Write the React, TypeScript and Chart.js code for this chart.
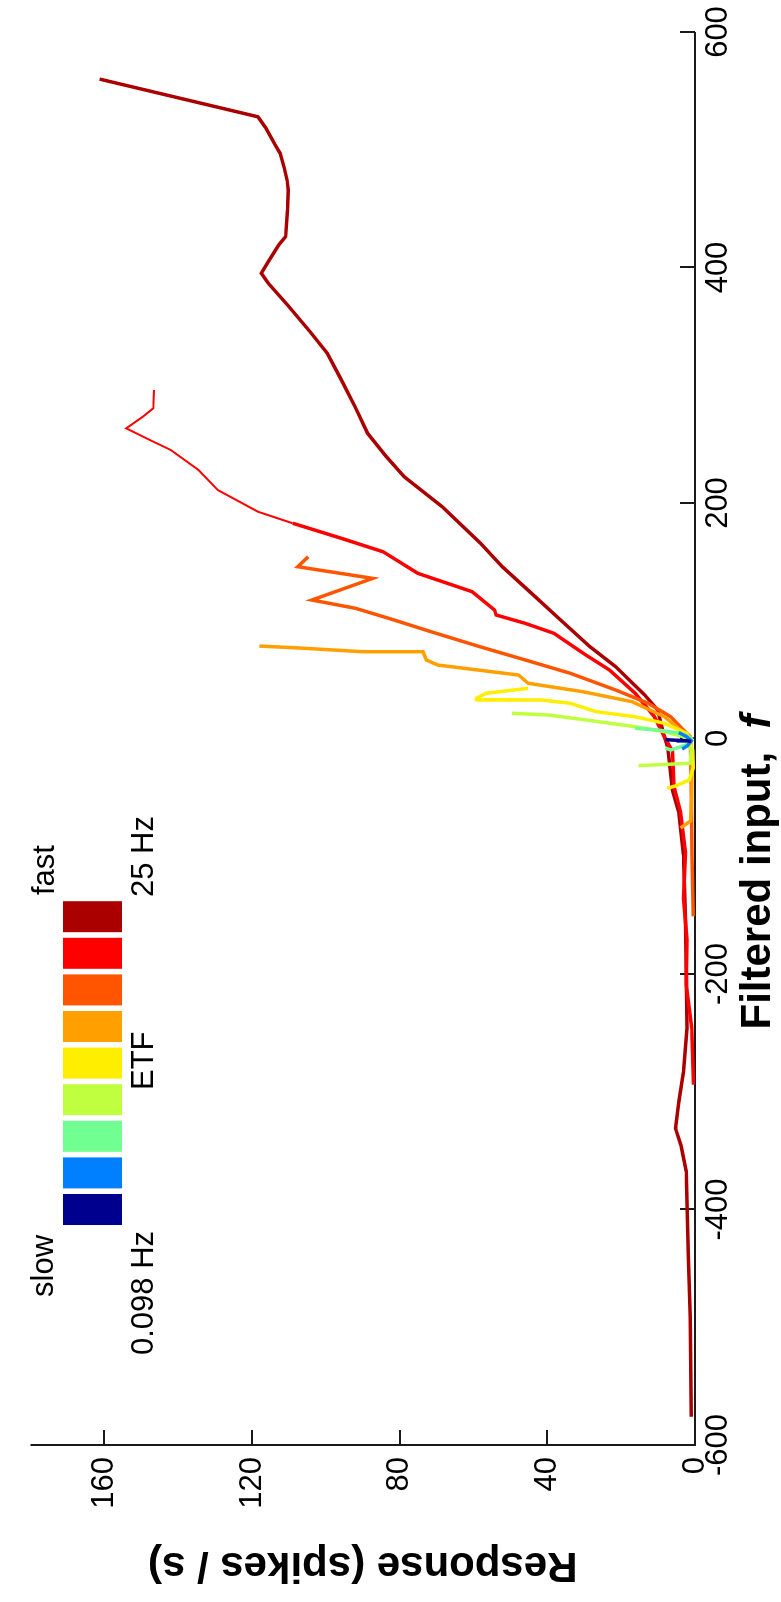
import { useEffect, useRef } from "react";
import { Chart, registerables } from "chart.js";

Chart.register(...registerables);

// The figure is laid out landscape (input on x, response on y) and then turned
// a quarter turn counter-clockwise for display.
const FIG_W = 1602;
const FIG_H = 781;

const FONT = "'Liberation Sans', Arial, Helvetica, sans-serif";

// Stimulus frequencies, slow to fast
const freqLabels = ["0.098 Hz", "0.195 Hz", "0.39 Hz", "0.78 Hz", "1.56 Hz", "3.125 Hz", "6.25 Hz", "12.5 Hz", "25 Hz"];
const freqColors = ["#00008F", "#0080FF", "#70FF90", "#C0FF40", "#FFEE00", "#FFA000", "#FF5500", "#FF0000", "#AA0000"];

// Filtered input f and response (spikes/s) for each frequency
const input0098 = [-1, -1.5, -2, -2.5];
const rate0098 = [8, 5, 2, 1];

const input0195 = [5, 2, -2, -6, -9];
const rate0195 = [4.4, 2.5, 1.0, 2, 3.5];

const input039 = [8.7, 7.2, 4.4, 0, -5, -9.8, -8];
const rate039 = [16.2, 10.1, 3.9, 1, 2, 6.6, 8];

const input078 = [21.4, 20, 15.7, 10, 5.8, 1.5, -10, -21, -22, -23];
const rate078 = [49.6, 39.9, 29.4, 16.2, 8.3, 3.1, 1.0, 1.3, 8, 15.3];

const input156 = [42.6, 38.4, 34.1, 33, 32.7, 29.9, 22.8, 18.5, 12.9, 4.4, -10, -25, -35, -40, -42.3];
const rate156 = [45.2, 56.6, 59.2, 59.2, 41.7, 33.8, 26.8, 16.2, 8.3, 2.2, 0.6, 0.5, 1.5, 5, 7.5];

const input3125 = [78.5, 77, 73.7, 73.7, 66.7, 62.4, 53.9, 46.9, 39.7, 31.3, 18.5, 7.2, 1.5, -20, -50, -70, -76];
const rate3125 = [118, 108, 90, 73.7, 72.8, 69.7, 47.8, 45.2, 30.3, 17.1, 8.3, 3.9, 1.3, 0.8, 0.9, 1.2, 3.9];

const input625 = [154.4, 145.9, 136, 117.6, 110.6, 102, 90.7, 78, 66.7, 55.4, 41.2, 29.9, 18.5, 7.2, 1.5, -40, -100, -151];
const rate625 = [104.8, 107.6, 87.3, 103.8, 92, 82.9, 71.5, 58.3, 46, 33.8, 21.5, 12.7, 6.6, 3.1, 1.3, 1, 0.8, 0.5];

const input125 = [296, 280.4, 273.3, 263.4, 253.5, 245, 228, 211, 192.6, 182.8, 170, 158.6, 140.3, 124.7, 109.1, 104.9, 97.8, 89.3, 72.4, 58.2, 38.4, 18.5, 1.5, -11, -41, -62.4, -97, -136, -171, -209, -246, -294];
const rate125 = [146.6, 146.8, 149.6, 154.1, 147.7, 142, 134.5, 129.3, 118.4, 109, 95.8, 84.5, 75.1, 60.4, 54.3, 53.9, 46, 38.2, 30.3, 23.2, 16.2, 11, 8.3, 6.1, 5.7, 3.9, 2.6, 3.1, 2.2, 2.4, 0.9, 0.4];

const input25 = [560, 528, 518.6, 504, 497, 485, 474, 465.8, 448.8, 426.2, 419.1, 404.9, 395.1, 386.6, 368.2, 345.5, 327.1, 304.5, 281.8, 259.2, 239.3, 222.3, 196.9, 165.8, 145.9, 123.3, 100.6, 78, 61, 36.9, 24.2, 1.5, -7.3, -44, -62.4, -99, -154, -246, -283, -309, -331, -345.6, -367.6, -437, -492, -576];
const rate25 = [161.3, 118.4, 116.3, 113.7, 112.4, 111.3, 110.5, 110.2, 110.4, 110.9, 112.8, 115.6, 117.5, 115.6, 110.4, 104.3, 99.6, 95.8, 92.1, 88.7, 83.6, 78.8, 68.5, 58.1, 52.2, 44.3, 36.4, 28.5, 21.5, 13.6, 10.1, 8.3, 7.4, 6.1, 4.4, 3.1, 2.6, 2.2, 3.1, 4.4, 5.3, 3.8, 2.4, 1.8, 1.3, 1];

const seriesInputs = [input0098, input0195, input039, input078, input156, input3125, input625, input125, input25];
const seriesRates = [rate0098, rate0195, rate039, rate078, rate156, rate3125, rate625, rate125, rate25];

// Axis ticks
const inputTicks = [-600, -400, -200, 0, 200, 400, 600];
const rateTicks = [0, 40, 80, 120, 160];

const TICK_LEN = 15;

const decorations = {
  id: "decorations",
  beforeDatasetsDraw(chart: any) {
    const { ctx, chartArea: a, scales } = chart;
    const xs = scales.x;
    const ys = scales.y;
    ctx.save();
    ctx.strokeStyle = "#1a1a1a";
    ctx.lineWidth = 2;
    ctx.beginPath();
    ctx.moveTo(a.left, a.top);
    ctx.lineTo(a.left, a.bottom);
    ctx.lineTo(a.right, a.bottom);
    for (const v of inputTicks) {
      const px = Math.round(xs.getPixelForValue(v));
      ctx.moveTo(px, a.bottom);
      ctx.lineTo(px, a.bottom - TICK_LEN);
    }
    for (const v of rateTicks) {
      const py = Math.round(ys.getPixelForValue(v));
      ctx.moveTo(a.left, py);
      ctx.lineTo(a.left + TICK_LEN, py);
    }
    ctx.stroke();
    ctx.restore();
  },
  afterDraw(chart: any) {
    const { ctx, chartArea: a } = chart;
    ctx.save();
    ctx.fillStyle = "#000";

    // response axis title, reading upward
    ctx.save();
    ctx.translate(49, (a.top + a.bottom) / 2);
    ctx.rotate(-Math.PI / 2);
    ctx.font = `bold 42px ${FONT}`;
    ctx.textAlign = "center";
    ctx.textBaseline = "alphabetic";
    ctx.fillText("Response (spikes / s)", 0, 0);
    ctx.restore();

    // input axis title with italic f
    const main = "Filtered input,  ";
    ctx.font = `bold 42px ${FONT}`;
    const wMain = ctx.measureText(main).width;
    ctx.font = `italic bold 42px ${FONT}`;
    const wF = ctx.measureText("f").width;
    const cx = 730;
    const x0 = cx - (wMain + wF) / 2;
    ctx.textAlign = "left";
    ctx.textBaseline = "alphabetic";
    ctx.font = `bold 42px ${FONT}`;
    ctx.fillText(main, x0, 770);
    ctx.font = `italic bold 42px ${FONT}`;
    ctx.fillText("f", x0 + wMain, 770);

    // frequency colour key
    const keyLeft = 377;
    const keyPitch = 36.6;
    const keyW = 31;
    freqColors.forEach((c, i) => {
      ctx.fillStyle = c;
      ctx.fillRect(keyLeft + i * keyPitch, 63, keyW, 59);
    });
    ctx.fillStyle = "#000";
    ctx.font = `31px ${FONT}`;
    ctx.fillText("slow", 305, 53);
    ctx.fillText("fast", 707, 54);
    ctx.fillText("0.098 Hz", 247, 153);
    ctx.fillText("ETF", 512, 153);
    ctx.fillText("25 Hz", 705, 153);
    ctx.restore();
  },
};

export default function App() {
  const canvasRef = useRef<HTMLCanvasElement | null>(null);

  useEffect(() => {
    const canvas = canvasRef.current;
    if (!canvas) return;

    const datasets = seriesInputs.map((fs, i) => ({
      label: freqLabels[i],
      data: fs.map((f, k) => ({ x: f, y: seriesRates[i][k] })),
      borderColor: freqColors[i],
      backgroundColor: freqColors[i],
      borderWidth: 3.5,
      showLine: true,
      pointRadius: 0,
      fill: false,
      tension: 0,
      ...(i === 7
        ? { segment: { borderWidth: (ctx: any) => (ctx.p0.parsed.x > 186 ? 2 : 3.5) } }
        : {}),
    }));

    const chart = new Chart(canvas, {
      type: "scatter",
      data: { datasets },
      options: {
        animation: false,
        responsive: false,
        devicePixelRatio: 1,
        layout: { padding: { left: 0, right: 32, top: 10, bottom: 0 } },
        plugins: {
          legend: { display: false },
          tooltip: { enabled: false },
        },
        elements: { point: { radius: 0 }, line: { tension: 0 } },
        scales: {
          x: {
            type: "linear",
            position: "bottom",
            min: -600,
            max: 600,
            afterBuildTicks: (s: any) => {
              s.ticks = inputTicks.map((v) => ({ value: v }));
            },
            ticks: {
              font: { family: FONT, size: 31 },
              color: "#000",
              padding: 5,
              maxRotation: 0,
              minRotation: 0,
            },
            grid: { display: false, drawTicks: false },
            border: { display: false },
            afterFit: (s: any) => {
              s.height = 86;
            },
          },
          y: {
            type: "linear",
            min: 0,
            max: 180,
            afterBuildTicks: (s: any) => {
              s.ticks = rateTicks.map((v) => ({ value: v }));
            },
            ticks: {
              font: { family: FONT, size: 31 },
              color: "#000",
              padding: 12,
            },
            grid: { display: false, drawTicks: false },
            border: { display: false },
            afterFit: (s: any) => {
              s.width = 157;
            },
          },
        },
      },
      plugins: [decorations],
    });

    return () => chart.destroy();
  }, []);

  return (
    <div
      style={{
        position: "absolute",
        left: 0,
        top: 0,
        width: FIG_H,
        height: FIG_W,
        overflow: "hidden",
        background: "#fff",
      }}
    >
      <div
        style={{
          position: "absolute",
          left: 0,
          top: 0,
          width: FIG_W,
          height: FIG_H,
          transformOrigin: "0 0",
          transform: `translate(0px, ${FIG_W}px) rotate(-90deg)`,
        }}
      >
        <canvas
          ref={canvasRef}
          width={FIG_W}
          height={FIG_H}
          style={{ width: FIG_W, height: FIG_H, display: "block" }}
        />
      </div>
    </div>
  );
}
